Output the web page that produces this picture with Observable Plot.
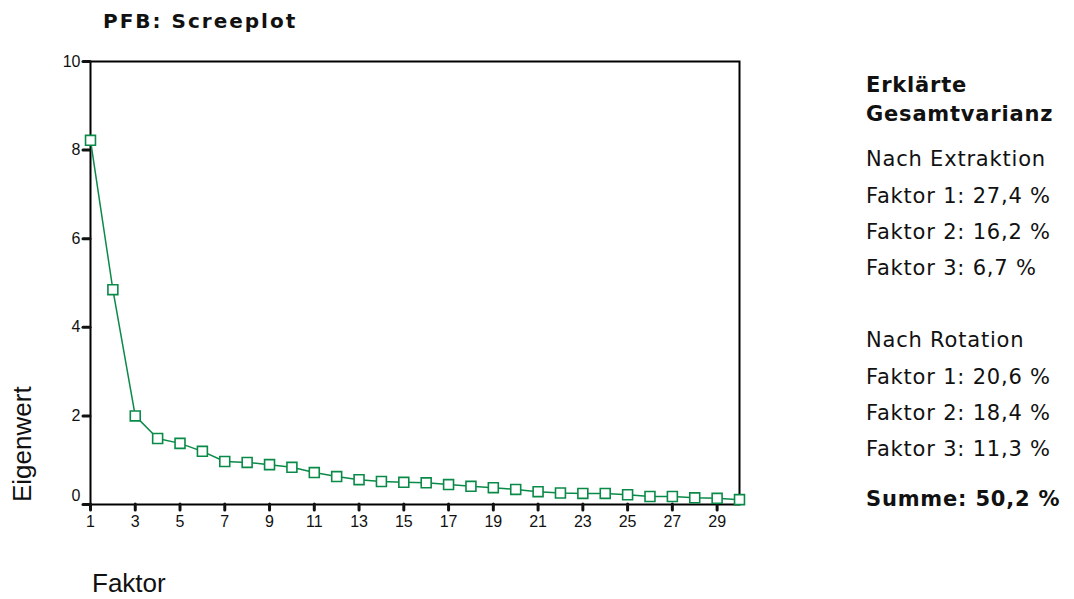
<!DOCTYPE html>
<html>
<head>
<meta charset="utf-8">
<script src="https://cdn.jsdelivr.net/npm/d3@7"></script>
<script src="https://cdn.jsdelivr.net/npm/@observablehq/plot@0.6"></script>
<style>
  html, body { margin: 0; padding: 0; background: white; }
  #wrap { position: relative; width: 1074px; height: 599px; overflow: hidden; background: white; }
  #wrap svg { position: absolute; left: 0; top: 0; }
  .t { position: absolute; white-space: nowrap; color: #111; }
  .panel { font-family: "DejaVu Sans", sans-serif; font-size: 21px; line-height: 21px; letter-spacing: 0.8px; left: 866px; }
  .bold { font-weight: bold; }
</style>
</head>
<body>
<div id="wrap"></div>
<script>
// ---- data ----
const factors = [1,2,3,4,5,6,7,8,9,10,11,12,13,14,15,16,17,18,19,20,21,22,23,24,25,26,27,28,29,30];
const eigenvalues = [8.22,4.85,2.00,1.49,1.38,1.20,0.97,0.95,0.90,0.84,0.72,0.63,0.56,0.52,0.50,0.49,0.45,0.41,0.38,0.34,0.29,0.26,0.25,0.25,0.22,0.18,0.18,0.15,0.14,0.11];
const xTicks = [1,3,5,7,9,11,13,15,17,19,21,23,25,27,29];
const yTicks = [0,2,4,6,8,10];
const title = "PFB: Screeplot";
const xLabel = "Faktor";
const yLabel = "Eigenwert";
const panelLines = [
  {text: "Erklärte", bold: true, top: 75},
  {text: "Gesamtvarianz", bold: true, top: 104},
  {text: "Nach Extraktion", bold: false, top: 149},
  {text: "Faktor 1: 27,4 %", bold: false, top: 186},
  {text: "Faktor 2: 16,2 %", bold: false, top: 222},
  {text: "Faktor 3: 6,7 %", bold: false, top: 258},
  {text: "Nach Rotation", bold: false, top: 330},
  {text: "Faktor 1: 20,6 %", bold: false, top: 367},
  {text: "Faktor 2: 18,4 %", bold: false, top: 403},
  {text: "Faktor 3: 11,3 %", bold: false, top: 439},
  {text: "Summe: 50,2 %", bold: true, top: 489}
];

const green = "#0a8a48";
const data = factors.map((f, i) => ({factor: f, value: eigenvalues[i]}));

const chart = Plot.plot({
  width: 760,
  height: 599,
  marginTop: 61,
  marginLeft: 90,
  marginRight: 21,
  marginBottom: 95,
  style: {fontFamily: "'Liberation Sans', Arial, sans-serif", fontSize: "16px", color: "#111", background: "white"},
  x: {domain: [1, 30]},
  y: {domain: [0, 10]},
  marks: [
    Plot.frame({stroke: "black", strokeWidth: 2}),
    Plot.axisX(xTicks, {tickSize: 6, strokeWidth: 3, strokeLinecap: "round", tickPadding: 5, fontSize: 16, label: null}),
    Plot.axisY(yTicks, {tickSize: 7, strokeWidth: 3, strokeLinecap: "round", tickFormat: () => "", label: null}),
    Plot.axisY(yTicks.filter(v => v > 0), {tickSize: 0, tickPadding: 10, fontSize: 16, label: null}),
    Plot.axisY(yTicks.filter(v => v === 0), {tickSize: 0, tickPadding: 10, dy: -9, fontSize: 16, label: null}),
    Plot.line(data, {x: "factor", y: "value", stroke: green, strokeWidth: 1.5}),
    Plot.dot(data, {x: "factor", y: "value", symbol: "square", r: 5.6, stroke: green, fill: "white", strokeWidth: 1.6})
  ]
});

const wrap = document.getElementById("wrap");
wrap.appendChild(chart);

function addText(txt, css, cls) {
  const d = document.createElement("div");
  d.className = "t " + (cls || "");
  d.textContent = txt;
  Object.assign(d.style, css);
  wrap.appendChild(d);
  return d;
}

addText(title, {left: "103px", top: "11px", fontFamily: "'DejaVu Sans', sans-serif", fontWeight: "bold", fontSize: "20px", lineHeight: "20px", letterSpacing: "2px"});
addText(xLabel, {left: "92px", top: "570px", fontFamily: "'Liberation Sans', Arial, sans-serif", fontSize: "26px", lineHeight: "26px"});
addText(yLabel, {left: "0px", top: "0px", fontFamily: "'Liberation Sans', Arial, sans-serif", fontSize: "26px", lineHeight: "26px",
  transformOrigin: "0 0", transform: "translate(9px, 502px) rotate(-90deg)"});

for (const l of panelLines) {
  addText(l.text, {top: l.top + "px"}, "panel" + (l.bold ? " bold" : ""));
}
</script>
</body>
</html>
